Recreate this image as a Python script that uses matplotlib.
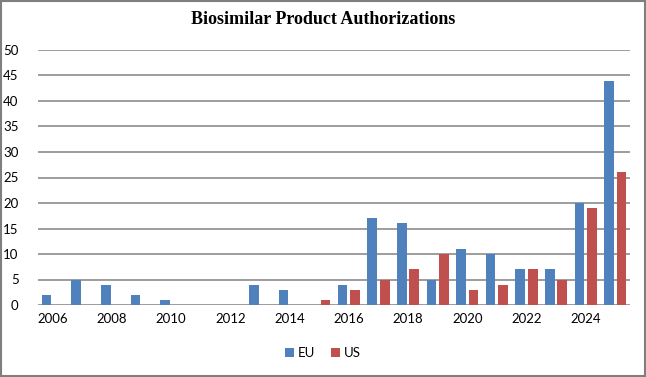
import numpy as np
import matplotlib.pyplot as plt

# Data
years = list(range(2006, 2026))
eu = [2, 5, 4, 2, 1, 0, 0, 4, 3, 0, 4, 17, 16, 5, 11, 10, 7, 7, 20, 44]
us = [0, 0, 0, 0, 0, 0, 0, 0, 0, 1, 3, 5, 7, 10, 3, 4, 7, 5, 19, 26]
tick_years = [2006, 2008, 2010, 2012, 2014, 2016, 2018, 2020, 2022, 2024]

W, H = 646, 377
fig = plt.figure(figsize=(W / 100, H / 100), dpi=100)
ax = fig.add_axes([38 / W, 1 - 305 / H, (630 - 38) / W, (305 - 50) / H])

x = np.arange(len(years))
bw = 0.33
ax.bar(x - 0.21, eu, width=bw, color="#4F81BD", label="EU", zorder=3)
ax.bar(x + 0.21, us, width=bw, color="#C0504D", label="US", zorder=3)

ax.set_xlim(-0.5, len(years) - 0.5)
ax.set_ylim(0, 50)
ax.set_yticks(range(0, 51, 5))
ax.set_xticks([years.index(y) for y in tick_years])
ax.set_xticklabels([str(y) for y in tick_years])
ax.grid(axis="y", color="#8C8C8C", linewidth=1.2, zorder=0)
for s in ax.spines.values():
    s.set_visible(False)
ax.tick_params(length=0, labelsize=9.5, pad=6)
ax.tick_params(axis="y", pad=14)
for lbl in ax.get_xticklabels() + ax.get_yticklabels():
    lbl.set_family("Lato")
    lbl.set_horizontalalignment("right" if lbl in ax.get_yticklabels() else "center")

fig.text(0.5, 1 - 20 / H, "Biosimilar Product Authorizations", ha="center",
         va="center", family="Liberation Serif", weight="bold", fontsize=13)

fig.legend(loc="center", bbox_to_anchor=(0.5, 1 - 353 / H), ncol=2, frameon=False,
           prop={"family": "Lato", "size": 9.5}, handlelength=0.7, handleheight=0.7,
           handletextpad=0.3, columnspacing=1.2)

# Grey outer border
fig.patches.append(plt.Rectangle((0.001, 0.002), 0.997, 0.996, transform=fig.transFigure,
                                 fill=False, edgecolor="#7F7F7F", linewidth=1.5))

fig.savefig("out.png", dpi=100)
